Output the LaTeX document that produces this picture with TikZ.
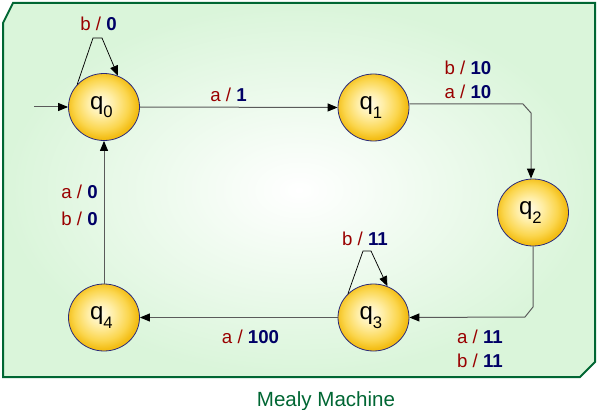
\documentclass[tikz,border=0pt]{standalone}
\usepackage{fontspec}
\setmainfont{Liberation Sans}
\usetikzlibrary{arrows.meta,shapes.geometric}

\definecolor{lblred}{HTML}{990000}
\definecolor{lblblue}{HTML}{000066}
\definecolor{framegreen}{HTML}{006633}
\definecolor{bggreen}{HTML}{DAF5DA}
\definecolor{edgegray}{HTML}{5A5A5A}
\definecolor{nodeborder}{HTML}{2A2A7A}
\definecolor{nodeouter}{HTML}{F3BD14}
\definecolor{nodemid}{HTML}{FBD64E}
\definecolor{nodelight}{HTML}{FFEEA6}
\definecolor{nodeinner}{HTML}{FFFCEC}

\pgfdeclareradialshading{goldball}{\pgfpoint{-3bp}{3bp}}{%
  color(0bp)=(nodeinner); color(9bp)=(nodelight); color(19bp)=(nodemid);
  color(25bp)=(nodeouter); color(50bp)=(nodeouter)}

\newcommand{\trlbl}[2]{\textcolor{lblred}{#1 /} \textcolor{lblblue}{\bfseries #2}}
\newcommand{\stname}[1]{\hspace*{-4pt}q\raisebox{-0.36em}{\fontsize{12.5}{12.5}\selectfont #1}}

\tikzset{
  state/.style={ellipse, minimum width=53.25pt, minimum height=50.25pt, inner sep=0pt,
    draw=nodeborder, line width=0.6pt, shading=goldball,
    font=\fontsize{18}{18}\selectfont},
  edge/.style={draw=edgegray, line width=0.75pt,
    -{Triangle[length=7.5pt,width=6pt,color=black]}},
  loopedge/.style={draw=black, line width=0.55pt,
    -{Triangle[length=7.5pt,width=6pt,color=black]}},
  tlabel/.style={anchor=base, inner sep=0pt, font=\fontsize{14}{14}\selectfont},
}

\begin{document}
\begin{tikzpicture}[x=0.75pt,y=-0.75pt]
\useasboundingbox (0,0) rectangle (597,410);

% frame
\shadedraw[draw=framegreen, line width=1.5pt, inner color=white, outer color=bggreen]
  (3,23) -- (13,3) -- (595,3) -- (595,362) -- (580,377) -- (3,377) -- cycle;

% states
\node[state] (q0) at (104,107) {\stname{0}};
\node[state] (q1) at (373.5,107.5) {\stname{1}};
\node[state] (q2) at (533,212.5) {\stname{2}};
\node[state] (q3) at (373.5,317.5) {\stname{3}};
\node[state] (q4) at (104,317.5) {\stname{4}};

% helper coordinates
\coordinate (init) at (34,107);
\coordinate (c1a) at (523,104);
\coordinate (c1b) at (531,113);
\coordinate (c2a) at (533,307);
\coordinate (c2b) at (525,317);
\coordinate (l0a) at (93,38);
\coordinate (l0b) at (102,38);
\coordinate (l3a) at (363,251);
\coordinate (l3b) at (371,251);

% connectors
\draw[edge] (init) -- (q0.west);
\draw[edge] (q0.east) -- (q1.west);
\draw[edge] (q1.east |- c1a) -- (c1a) -- (c1b) -- (c1b |- q2.north);
\draw[edge] (q2.south) -- (c2a) -- (c2b) -- (q3.east);
\draw[edge] (q3.west) -- (q4.east);
\draw[edge] (q4.north) -- (q0.south);
\draw[loopedge] (q0.140) -- (l0a) -- (l0b) -- (q0.66);
\draw[loopedge] (q3.137) -- (l3a) -- (l3b) -- (q3.66);

% labels
\node[tlabel] (t00) at (98.5,31) {\trlbl{b}{0}};
\node[tlabel] (t01) at (228.5,102) {\trlbl{a}{1}};
\node[tlabel] (t12a) at (468,75) {\trlbl{b}{10}};
\node[tlabel] (t12b) at (468,99) {\trlbl{a}{10}};
\node[tlabel] (t33) at (365,245) {\trlbl{b}{11}};
\node[tlabel] (t23a) at (480,343) {\trlbl{a}{11}};
\node[tlabel] (t23b) at (480,367) {\trlbl{b}{11}};
\node[tlabel] (t34) at (250.5,343) {\trlbl{a}{100}};
\node[tlabel] (t40a) at (79.5,199) {\trlbl{a}{0}};
\node[tlabel] (t40b) at (79.5,225) {\trlbl{b}{0}};

% caption
\node[anchor=base, inner sep=0pt, text=framegreen, font=\fontsize{15.4}{16}\selectfont] (cap) at (326,406) {Mealy Machine};
\end{tikzpicture}
\end{document}
